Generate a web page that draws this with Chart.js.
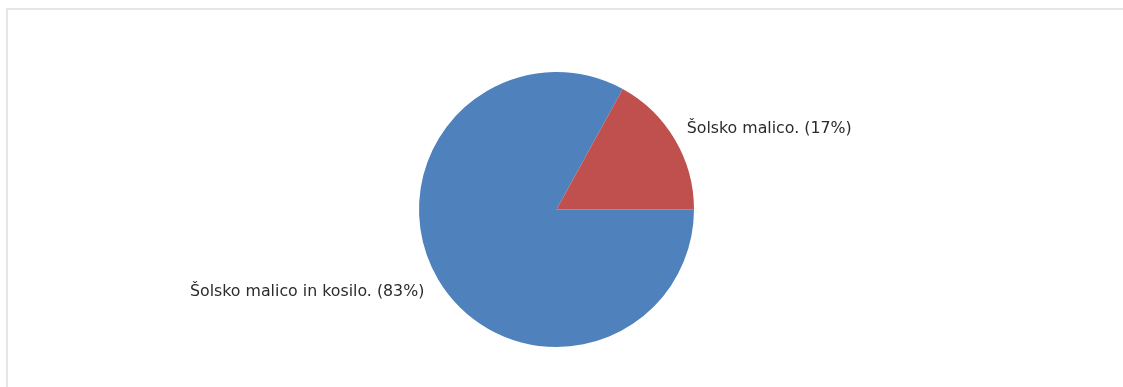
<!DOCTYPE html>
<html>
<head>
<meta charset="utf-8">
<script src="https://cdn.jsdelivr.net/npm/chart.js@4"></script>
<style>
  html, body { margin: 0; padding: 0; background: #fff; overflow: hidden; }
  #okvir {
    position: absolute; left: 6px; top: 8px; width: 1200px; height: 400px;
    border-top: 2px solid #e6e6e6; border-left: 2px solid #e6e6e6;
  }
  #wrap { position: absolute; left: 0; top: 0; width: 1123px; height: 387px; }
</style>
</head>
<body>
<div id="okvir"></div>
<div id="wrap"><canvas id="graf"></canvas></div>
<script>
// Podatki za tortni graf
const kategorije = ['Šolsko malico in kosilo.', 'Šolsko malico.'];
const odstotki = [83, 17];
const barve = ['#4f81bd', '#c0504d'];

// Oznake zunaj torte: ime in odstotek ob vsakem izseku
const zunanjeOznake = {
    id: 'zunanjeOznake',
    afterDatasetsDraw(chart) {
        const ctx = chart.ctx;
        const meta = chart.getDatasetMeta(0);
        ctx.save();
        ctx.font = '15.8px "DejaVu Sans"';
        ctx.fillStyle = '#2b2b2b';
        ctx.textBaseline = 'middle';
        meta.data.forEach((arc, i) => {
            const { x, y, startAngle, endAngle, outerRadius } = arc.getProps(['x', 'y', 'startAngle', 'endAngle', 'outerRadius'], true);
            const sredina = (startAngle + endAngle) / 2;
            const r = outerRadius * 1.1;
            const tx = x + Math.cos(sredina) * r;
            const ty = y + Math.sin(sredina) * r;
            const desno = Math.cos(sredina) >= 0;
            ctx.textAlign = desno ? 'left' : 'right';
            const besedilo = kategorije[i] + ' (' + odstotki[i] + '%)';
            ctx.fillText(besedilo, tx + (desno ? 0 : -2), ty + (desno ? -4 : 5));
        });
        ctx.restore();
    }
};

new Chart(document.getElementById('graf'), {
    type: 'pie',
    data: {
        labels: kategorije,
        datasets: [{
            data: odstotki,
            backgroundColor: barve,
            borderWidth: 0
        }]
    },
    options: {
        responsive: true,
        maintainAspectRatio: false,
        animation: false,
        rotation: 90,
        layout: { padding: { left: 0, right: 10, top: 72, bottom: 40 } },
        plugins: {
            legend: { display: false },
            tooltip: { enabled: false }
        }
    },
    plugins: [zunanjeOznake]
});
</script>
</body>
</html>
